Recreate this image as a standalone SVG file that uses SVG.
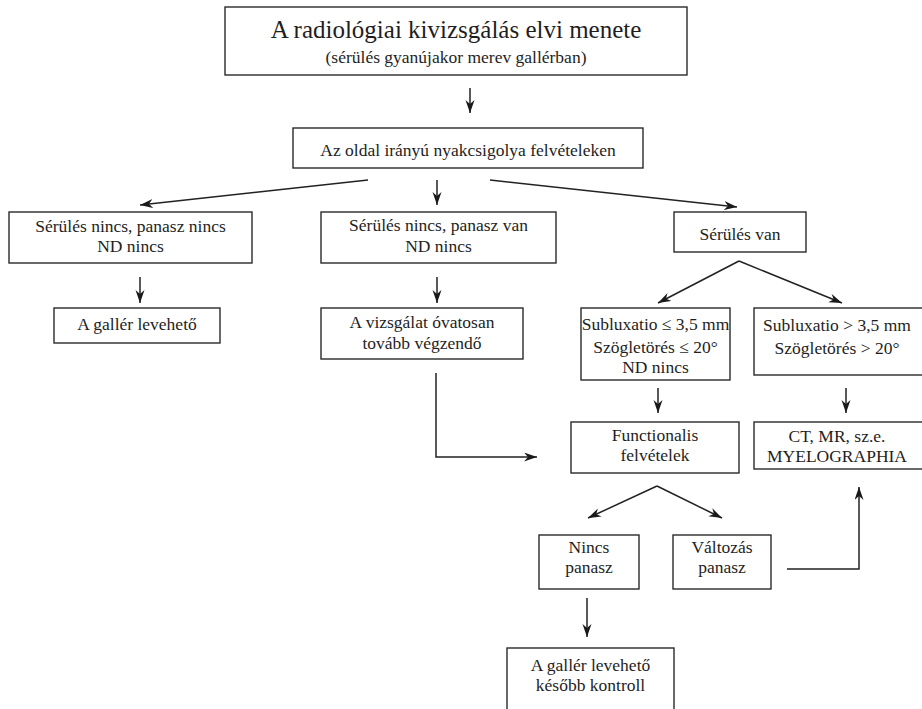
<svg xmlns="http://www.w3.org/2000/svg" width="922" height="709" viewBox="0 0 922 709">
<defs>
<style>
.box{fill:none;stroke:#2a2a2a;stroke-width:1.4}
.t{font-family:"Liberation Serif","Times New Roman",serif;font-size:17.5px;fill:#1e1e1e;text-anchor:middle}
.title{font-size:25px}
.sub{font-size:17.5px}
.c line,.c polyline{fill:none;stroke:#222222;stroke-width:1.5;marker-end:url(#ah)}
</style>
<marker id="ah" markerUnits="userSpaceOnUse" markerWidth="14" markerHeight="10" refX="13" refY="4.5" orient="auto">
<path d="M0,0 L13,4.5 L0,9 L4,4.5 z" fill="#1a1a1a"/>
</marker>
</defs>
<rect width="922" height="709" fill="#ffffff"/>
<g id="n-title">
<rect class="box" x="225" y="7" width="462" height="68"/>
<text class="t title" x="456" y="38">A radiológiai kivizsgálás elvi menete</text>
<text class="t sub" x="456" y="63">(sérülés gyanújakor merev gallérban)</text>
</g>
<g id="n-oldal">
<rect class="box" x="293" y="128" width="350" height="40"/>
<text class="t" x="468" y="156">Az oldal irányú nyakcsigolya felvételeken</text>
</g>
<g id="n-nincs-nincs">
<rect class="box" x="9" y="212" width="243" height="51"/>
<text class="t" x="130.5" y="232">Sérülés nincs, panasz nincs</text>
<text class="t" x="130.5" y="252">ND nincs</text>
</g>
<g id="n-nincs-van">
<rect class="box" x="321" y="212" width="235" height="51"/>
<text class="t" x="438.5" y="231">Sérülés nincs, panasz van</text>
<text class="t" x="438.5" y="252">ND nincs</text>
</g>
<g id="n-serules-van">
<rect class="box" x="674" y="212" width="132" height="40"/>
<text class="t" x="740" y="240">Sérülés van</text>
</g>
<g id="n-galler1">
<rect class="box" x="54" y="308" width="166" height="35"/>
<text class="t" x="137" y="330">A gallér levehető</text>
</g>
<g id="n-vizsgalat">
<rect class="box" x="321" y="308" width="202" height="51"/>
<text class="t" x="422" y="328">A vizsgálat óvatosan</text>
<text class="t" x="422" y="349">tovább végzendő</text>
</g>
<g id="n-sub-le">
<rect class="box" x="581" y="308" width="149" height="72"/>
<text class="t" x="655.5" y="330">Subluxatio ≤ 3,5 mm</text>
<text class="t" x="655.5" y="353">Szögletörés ≤ 20°</text>
<text class="t" x="655.5" y="373">ND nincs</text>
</g>
<g id="n-sub-gt">
<rect class="box" x="754" y="308" width="175" height="67"/>
<text class="t" x="837" y="331">Subluxatio &gt; 3,5 mm</text>
<text class="t" x="837" y="354">Szögletörés &gt; 20°</text>
</g>
<g id="n-functionalis">
<rect class="box" x="571" y="422" width="168" height="51"/>
<text class="t" x="655" y="441">Functionalis</text>
<text class="t" x="655" y="461">felvételek</text>
</g>
<g id="n-ct">
<rect class="box" x="754" y="422" width="175" height="47"/>
<text class="t" x="837" y="442">CT, MR, sz.e.</text>
<text class="t" x="837" y="462">MYELOGRAPHIA</text>
</g>
<g id="n-nincs-panasz">
<rect class="box" x="539" y="535" width="100" height="54"/>
<text class="t" x="589" y="553">Nincs</text>
<text class="t" x="589" y="573">panasz</text>
</g>
<g id="n-valtozas">
<rect class="box" x="673" y="535" width="98" height="54"/>
<text class="t" x="722" y="553">Változás</text>
<text class="t" x="722" y="573">panasz</text>
</g>
<g id="n-galler2">
<rect class="box" x="507" y="648" width="167" height="80"/>
<text class="t" x="590.5" y="671">A gallér levehető</text>
<text class="t" x="590.5" y="691">később kontroll</text>
</g>
<g id="connectors" class="c">
<line x1="470" y1="88" x2="470" y2="113"/>
<line x1="368" y1="180" x2="140" y2="205"/>
<line x1="437" y1="180" x2="437" y2="205"/>
<line x1="490" y1="180" x2="737" y2="207"/>
<line x1="140" y1="277" x2="140" y2="303"/>
<line x1="437" y1="277" x2="437" y2="303"/>
<line x1="739" y1="261" x2="658" y2="303"/>
<line x1="739" y1="261" x2="842" y2="303"/>
<line x1="658" y1="388" x2="658" y2="413"/>
<line x1="846" y1="388" x2="846" y2="413"/>
<polyline points="436,373 436,457 537,457"/>
<line x1="657" y1="486" x2="588" y2="518"/>
<line x1="657" y1="486" x2="722" y2="518"/>
<line x1="587" y1="598" x2="587" y2="637"/>
<polyline points="787,569 859,569 859,487"/>
</g>
</svg>
